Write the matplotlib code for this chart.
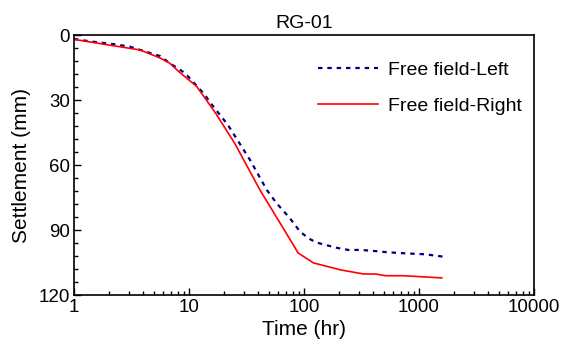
# Settlement vs time, RG-01 free-field gauges

import matplotlib
matplotlib.use('Agg')
import matplotlib.pyplot as plt
from matplotlib.ticker import MultipleLocator, LogLocator, NullFormatter

plt.rcParams['font.family'] = ['Liberation Sans', 'DejaVu Sans']

# Free field-Left (blue dotted)
t_left = [1, 1.25, 1.52, 2.2, 3.07, 4.52, 5.6, 6.8, 9.2, 10.9, 13.8, 15.2, 21.8,
          34, 47.5, 57.7, 75, 92, 109, 129, 157, 192, 243, 307, 375, 541, 780,
          1130, 1630]
s_left = [1.8, 2.6, 3.2, 4.2, 5.4, 8.2, 9.7, 13, 17.5, 21.7, 27.7, 31, 41.5,
          57.7, 71.5, 77.6, 84.4, 90.6, 93.8, 95.8, 97, 98.2, 99.2, 99.2, 99.5,
          100.3, 100.8, 101.2, 102.3]

# Free field-Right (red solid)
t_right = [1, 2, 3.76, 5.6, 6.8, 8, 11.7, 17, 25, 41.4, 62, 89, 121, 208, 330,
           420, 513, 735, 1580]
s_right = [2.0, 4.6, 6.9, 10.6, 13, 16.5, 23.8, 36, 50, 71.5, 86.8, 100.6,
           105.2, 108.4, 110.3, 110.3, 111.1, 111.1, 112.1]

fig = plt.figure(figsize=(5.66, 3.49), dpi=100)
ax = fig.add_axes([0.1307, 0.1547, 0.8127, 0.745])

ax.plot(t_left, s_left, color='#000080', linestyle=(0, (2, 2.2)), linewidth=1.6,
        label='Free field-Left')
ax.plot(t_right, s_right, color='#ff0000', linewidth=1.2, label='Free field-Right')

ax.set_xscale('log')
ax.set_xlim(1, 10000)
ax.set_ylim(120, 0)
ax.set_xticks([1, 10, 100, 1000, 10000])
ax.set_xticklabels(['1', '10', '100', '1000', '10000'])
ax.xaxis.set_minor_locator(LogLocator(base=10, subs=range(2, 10)))
ax.xaxis.set_minor_formatter(NullFormatter())
ax.yaxis.set_major_locator(MultipleLocator(30))
ax.yaxis.set_minor_locator(MultipleLocator(6))

ax.tick_params(which='both', direction='in', top=False, right=False, labelsize=13.5)
ax.tick_params(which='major', length=5, width=1, pad=3)
ax.tick_params(which='minor', length=3, width=1)
for sp in ax.spines.values():
    sp.set_linewidth(1.2)

ax.set_xlabel('Time (hr)', fontsize=15, labelpad=3)
ax.set_ylabel('Settlement (mm)', fontsize=15, labelpad=5)
ax.set_title('RG-01', fontsize=14, pad=5)

ax.legend(loc='upper left', frameon=False, fontsize=14, handlelength=3.1,
          labelspacing=0.95, handletextpad=0.5, borderpad=0, borderaxespad=0,
          bbox_to_anchor=(0.530, 0.90))

fig.savefig('out.png', dpi=100)
